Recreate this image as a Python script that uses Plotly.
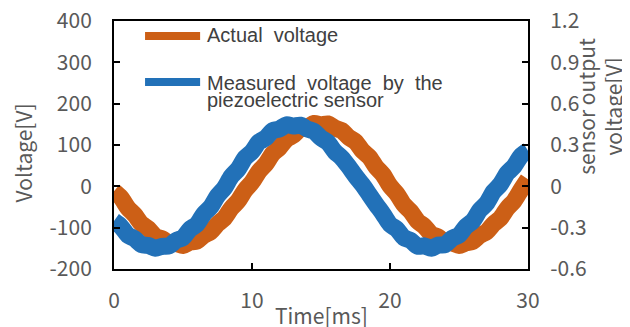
import plotly.graph_objects as go

# Time axis [ms], 0.5 ms steps
time_ms = [i * 0.5 for i in range(61)]

# Actual voltage [V] (orange, left axis)
actual_voltage = [
    -12, -27, -52, -69, -91, -103, -121, -127, -138, -138,
    -143, -135, -133, -119, -110, -91, -77, -53, -35, -9,
    10, 36, 54, 79, 94, 114, 124, 139, 143, 152,
    149, 151, 141, 135, 119, 108, 86, 71, 46, 28,
    1, -18, -44, -61, -84, -97, -116, -123, -136, -137,
    -143, -137, -133, -119, -110, -91, -77, -53, -35, -8,
    17,
]

# Sensor output voltage [V] (blue, right axis)
sensor_output = [
    -0.252, -0.291, -0.354, -0.381, -0.423, -0.429, -0.450, -0.435, -0.432, -0.393,
    -0.372, -0.312, -0.276, -0.201, -0.150, -0.069, -0.012, 0.072, 0.126, 0.207,
    0.252, 0.321, 0.351, 0.405, 0.417, 0.447, 0.438, 0.444, 0.417, 0.399,
    0.351, 0.318, 0.252, 0.207, 0.144, 0.075, 0.012, -0.060, -0.132, -0.201,
    -0.276, -0.312, -0.372, -0.393, -0.435, -0.432, -0.450, -0.426, -0.423, -0.378,
    -0.354, -0.291, -0.252, -0.174, -0.123, -0.039, 0.015, 0.096, 0.147, 0.222,
    0.258,
]

x_ticks = [0, 10, 20, 30]
y_ticks = [-200, -100, 0, 100, 200, 300, 400]
y_tick_text = ["-200", "-100", "0", "100", "200", "300", "400"]
y2_ticks = [-0.6, -0.3, 0, 0.3, 0.6, 0.9, 1.2]
y2_tick_text = ["-0.6", "-0.3", "0", "0.3", "0.6", "0.9", "1.2"]

series_names = ["Actual\u00a0 voltage", "Measured\u00a0 voltage\u00a0 by\u00a0 the", "piezoelectric sensor"]

ORANGE = "#CC5F16"
BLUE = "#2271B8"
TICK_FONT = dict(family="Noto Sans CJK JP", size=21, color="#595959")
LEG_FONT = dict(family="Liberation Sans, Arial", size=20, color="#404040")

fig = go.Figure()
fig.add_trace(go.Scatter(x=time_ms, y=actual_voltage, mode="lines",
                         line=dict(color=ORANGE, width=17, shape="spline", smoothing=0.8),
                         name="Actual voltage", showlegend=False, yaxis="y"))
fig.add_trace(go.Scatter(x=time_ms, y=sensor_output, mode="lines",
                         line=dict(color=BLUE, width=17, shape="spline", smoothing=0.8),
                         name="Measured voltage by the piezoelectric sensor",
                         showlegend=False, yaxis="y2"))

axis_common = dict(showline=True, linecolor="black", linewidth=2, ticks="inside",
                   ticklen=6, tickwidth=2, tickcolor="black", showgrid=False,
                   zeroline=False, tickfont=TICK_FONT, automargin=False,
                   ticklabeloverflow="allow")

# page body has an 8px default margin, so the figure is sized/margined to compensate
fig.update_layout(
    width=622, height=319,
    margin=dict(l=106, r=102, t=13, b=58, autoexpand=False),
    paper_bgcolor="white", plot_bgcolor="white",
    showlegend=False,
    xaxis=dict(range=[0, 30], tickvals=x_ticks, mirror=True,
               ticklabelstandoff=12, **axis_common),
    yaxis=dict(range=[-200, 400], tickvals=y_ticks, ticktext=y_tick_text,
               ticklabelstandoff=16, **axis_common),
    yaxis2=dict(range=[-0.6, 1.2], tickvals=y2_ticks, ticktext=y2_tick_text,
                overlaying="y", side="right", ticklabelstandoff=16, **axis_common),
)

# legend drawn manually (long sample lines as in the original)
fig.add_shape(type="line", xref="paper", yref="paper", x0=0.075, x1=0.208,
              y0=0.940, y1=0.940, line=dict(color=ORANGE, width=8))
fig.add_shape(type="line", xref="paper", yref="paper", x0=0.075, x1=0.208,
              y0=0.754, y1=0.754, line=dict(color=BLUE, width=8))
fig.add_annotation(xref="paper", yref="paper", x=0.220, y=0.944, text=series_names[0],
                   showarrow=False, xanchor="left", yanchor="middle", font=LEG_FONT)
fig.add_annotation(xref="paper", yref="paper", x=0.220, y=0.752, text=series_names[1],
                   showarrow=False, xanchor="left", yanchor="middle", font=LEG_FONT)
fig.add_annotation(xref="paper", yref="paper", x=0.220, y=0.683, text=series_names[2],
                   showarrow=False, xanchor="left", yanchor="middle", font=LEG_FONT)

# axis titles
fig.add_annotation(xref="paper", yref="paper", x=-0.221, y=0.468, text="Voltage[V]",
                   textangle=-90, showarrow=False, xanchor="center", yanchor="middle",
                   font=TICK_FONT)
fig.add_annotation(xref="paper", yref="paper", x=1.171, y=0.657,
                   text="sensor output<br>voltage[V]", textangle=-90, showarrow=False,
                   xanchor="center", yanchor="middle", font=TICK_FONT)
fig.add_annotation(xref="paper", yref="paper", x=0.5, y=-0.185, text="Time[ms]",
                   showarrow=False, xanchor="center", yanchor="middle", font=TICK_FONT)

fig.write_html("out.html")
